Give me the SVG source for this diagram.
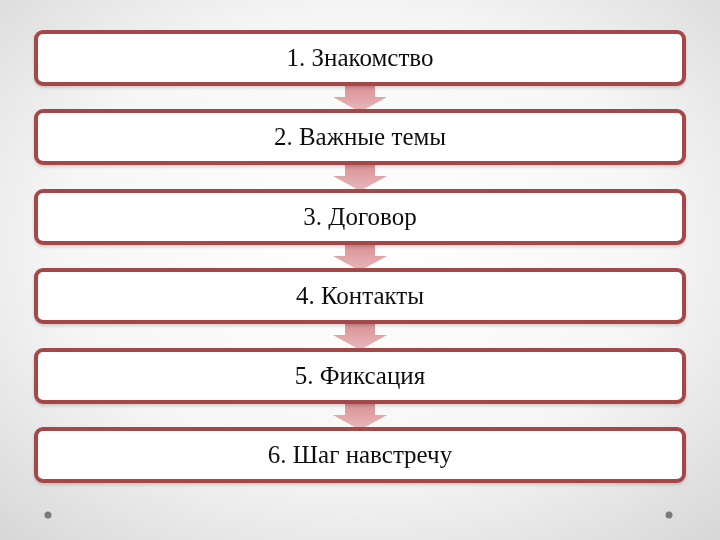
<svg xmlns="http://www.w3.org/2000/svg" width="720" height="540" viewBox="0 0 720 540">
<defs>
<radialGradient id="bg" cx="50%" cy="45%" r="75%">
<stop offset="0" stop-color="#ffffff"/>
<stop offset="0.55" stop-color="#f6f6f6"/>
<stop offset="1" stop-color="#d6d6d6"/>
</radialGradient>
<linearGradient id="arr" x1="0" y1="0" x2="0" y2="1">
<stop offset="0" stop-color="#d98f93"/>
<stop offset="1" stop-color="#e8b9bb"/>
</linearGradient>
<filter id="sh" x="-5%" y="-20%" width="110%" height="150%">
<feGaussianBlur in="SourceAlpha" stdDeviation="1.5"/>
<feOffset dx="0" dy="2" result="b"/>
<feFlood flood-color="#000" flood-opacity="0.15"/>
<feComposite in2="b" operator="in"/>
<feMerge><feMergeNode/><feMergeNode in="SourceGraphic"/></feMerge>
</filter>
</defs>
<style>
.box{fill:#ffffff;stroke:#a5474a;stroke-width:4}
.lbl{font-family:"Liberation Serif","DejaVu Serif",serif;font-size:25px;fill:#111111;text-anchor:middle}
.ar{fill:url(#arr)}
.dot{fill:#7a7a7a}
</style>
<rect width="720" height="540" fill="url(#bg)"/>
<g id="connectors">
<path class="ar" d="M345,84 H375 V97 H387 L360,112 L333,97 H345 Z"/>
<path class="ar" d="M345,163 H375 V176 H387 L360,191 L333,176 H345 Z"/>
<path class="ar" d="M345,243 H375 V256 H387 L360,271 L333,256 H345 Z"/>
<path class="ar" d="M345,322 H375 V335 H387 L360,350 L333,335 H345 Z"/>
<path class="ar" d="M345,402 H375 V415 H387 L360,430 L333,415 H345 Z"/>
</g>
<g id="n1" filter="url(#sh)"><rect class="box" x="36" y="32" width="648" height="52" rx="7"/><text class="lbl" x="360" y="66">1. Знакомство</text></g>
<g id="n2" filter="url(#sh)"><rect class="box" x="36" y="111" width="648" height="52" rx="7"/><text class="lbl" x="360" y="145">2. Важные темы</text></g>
<g id="n3" filter="url(#sh)"><rect class="box" x="36" y="191" width="648" height="52" rx="7"/><text class="lbl" x="360" y="225">3. Договор</text></g>
<g id="n4" filter="url(#sh)"><rect class="box" x="36" y="270" width="648" height="52" rx="7"/><text class="lbl" x="360" y="304">4. Контакты</text></g>
<g id="n5" filter="url(#sh)"><rect class="box" x="36" y="350" width="648" height="52" rx="7"/><text class="lbl" x="360" y="384">5. Фиксация</text></g>
<g id="n6" filter="url(#sh)"><rect class="box" x="36" y="429" width="648" height="52" rx="7"/><text class="lbl" x="360" y="463">6. Шаг навстречу</text></g>
<circle class="dot" cx="48" cy="515" r="3.5"/>
<circle class="dot" cx="669" cy="515" r="3.5"/>
</svg>
